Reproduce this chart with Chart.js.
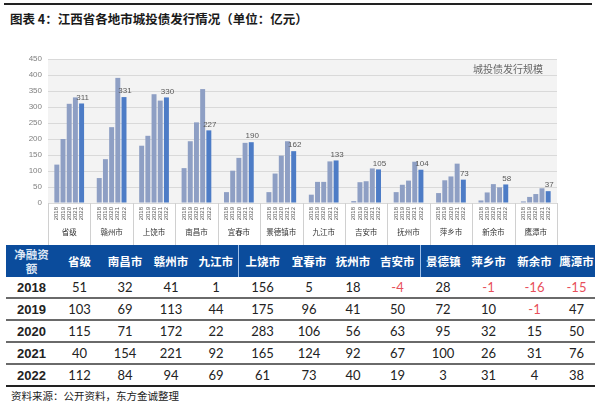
<!DOCTYPE html>
<html>
<head>
<meta charset="utf-8">
<script src="https://cdn.jsdelivr.net/npm/chart.js@4"></script>
<style>
  body { margin:0; width:600px; height:405px; background:#fff; position:relative; overflow:hidden;
         font-family:"Noto Sans CJK SC", sans-serif; }
  #topline { position:absolute; left:4px; top:3px; width:588px; height:2px; background:#222; }
  #title { position:absolute; left:10px; top:9px; font-weight:bold; font-size:12.5px; color:#1a1a1a; }
  #chart { position:absolute; left:0; top:35px; }
  #tbl { position:absolute; left:6px; top:245px; border-collapse:collapse; table-layout:fixed; }
  #tbl th { background:#0b4c9c; color:#fff; font-size:11.5px; font-weight:bold; height:32px; padding:0;
            text-align:center; line-height:14px; }
  #tbl th.sep { border-left:1px solid #9fc0ea; }
  #tbl td { height:20px; padding:0; text-align:center; font-family:Lato, "Noto Sans CJK SC", sans-serif;
            font-size:13px; color:#222; border-bottom:2px solid #6a6a6a; }
  #tbl tr:last-child td { border-bottom:2px solid #222; }
  #tbl td.yr { font-family:"Liberation Sans", sans-serif; font-weight:bold; }
  #tbl td.neg { color:#e8505b; }
  #src { position:absolute; left:11px; top:388px; font-size:10.5px; color:#222; }
</style>
</head>
<body>
<div id="topline"></div>
<div id="title">图表 4：江西省各地市城投债发行情况（单位：亿元）</div>
<canvas id="chart" width="600" height="210"></canvas>
<table id="tbl"></table>
<div id="src">资料来源：公开资料，东方金诚整理</div>
<script>
// 图表数据
const cities = ['省级', '赣州市', '上饶市', '南昌市', '宜春市', '景德镇市', '九江市', '吉安市', '抚州市', '萍乡市', '新余市', '鹰潭市'];
const years = ['2018', '2019', '2020', '2021', '2022'];
const y2018 = [120, 78, 179, 109, 34, 34, 26, 6, 34, 31, 8, 5];
const y2019 = [200, 137, 210, 193, 101, 92, 66, 65, 57, 71, 33, 19];
const y2020 = [310, 237, 340, 252, 141, 148, 66, 68, 70, 83, 59, 28];
const y2021 = [330, 391, 320, 356, 188, 193, 130, 108, 129, 123, 49, 46];
const y2022 = [311, 331, 330, 227, 190, 162, 133, 105, 104, 73, 58, 37];
const yTicks = [0, 50, 100, 150, 200, 250, 300, 350, 400, 450];

// 表格数据 (净融资额)
const tableHead = ['净融资额', '省级', '南昌市', '赣州市', '九江市', '上饶市', '宜春市', '抚州市', '吉安市', '景德镇', '萍乡市', '新余市', '鹰潭市'];
const net2018 = [51, 32, 41, 1, 156, 5, 18, -4, 28, -1, -16, -15];
const net2019 = [103, 69, 113, 44, 175, 96, 41, 50, 72, 10, -1, 47];
const net2020 = [115, 71, 172, 22, 283, 106, 56, 63, 95, 32, 15, 50];
const net2021 = [40, 154, 221, 92, 165, 124, 92, 67, 100, 26, 31, 76];
const net2022 = [112, 84, 94, 69, 61, 73, 40, 19, 3, 31, 4, 38];

// 表格生成
const colW = [51, 45, 46, 46, 44, 49, 44, 44, 45, 46, 45, 47, 37];
const tbl = document.getElementById('tbl');
let html = '<colgroup>' + colW.map(w => '<col style="width:' + w + 'px">').join('') + '</colgroup><tr>';
tableHead.forEach((h, i) => {
    const cls = (i === 5 || i === 9) ? ' class="sep"' : '';
    const txt = i === 0 ? '<span style="color:#dce6f4">净融资<br>额</span>' : h;
    html += '<th' + cls + '>' + txt + '</th>';
});
html += '</tr>';
[net2018, net2019, net2020, net2021, net2022].forEach((row, r) => {
    html += '<tr><td class="yr">' + years[r] + '</td>';
    row.forEach(v => { html += '<td' + (v < 0 ? ' class="neg"' : '') + '>' + v + '</td>'; });
    html += '</tr>';
});
tbl.innerHTML = html;

// 图表装饰 (背景, 年份, 城市名, 分隔线, 数值标签)
const decoPlugin = {
    id: 'deco',
    beforeDraw(chart) {
        const a = chart.chartArea, ctx = chart.ctx;
        ctx.save();
        ctx.fillStyle = '#f3f3f3';
        ctx.fillRect(a.left, a.top, a.right - a.left, a.bottom - a.top);
        ctx.restore();
    },
    afterDatasetsDraw(chart) {
        const ctx = chart.ctx, a = chart.chartArea, x = chart.scales.x;
        ctx.save();
        // 年份标签
        ctx.fillStyle = '#555';
        ctx.font = '6px "Liberation Sans"';
        chart.data.datasets.forEach((ds, di) => {
            chart.getDatasetMeta(di).data.forEach(bar => {
                ctx.save();
                ctx.translate(bar.x, a.bottom + 4);
                ctx.rotate(-Math.PI / 2);
                ctx.textAlign = 'right';
                ctx.textBaseline = 'middle';
                ctx.fillText(years[di], 0, 0);
                ctx.restore();
            });
        });
        // 城市名
        ctx.font = '7.5px "Noto Sans CJK SC"';
        ctx.fillStyle = '#333';
        ctx.textAlign = 'center';
        ctx.textBaseline = 'middle';
        cities.forEach((c, i) => ctx.fillText(c, x.getPixelForValue(i), a.bottom + 29));
        // 分隔线
        const w = x.getPixelForValue(1) - x.getPixelForValue(0);
        ctx.strokeStyle = '#d0d0d0';
        ctx.lineWidth = 1;
        for (let i = 0; i <= cities.length; i++) {
            const px = Math.round(x.getPixelForValue(0) - w / 2 + i * w) + 0.5;
            ctx.beginPath();
            ctx.moveTo(px, a.bottom);
            ctx.lineTo(px, chart.height);
            ctx.stroke();
        }
        // 2022 数值标签
        ctx.font = '8px "Liberation Sans"';
        ctx.fillStyle = '#595959';
        ctx.textBaseline = 'bottom';
        const last = chart.data.datasets.length - 1;
        chart.getDatasetMeta(last).data.forEach((bar, i) => {
            ctx.fillText(String(y2022[i]), bar.x + 1, bar.y - 2);
        });
        // 图例文字
        ctx.font = '10px "Noto Sans CJK SC"';
        ctx.fillStyle = '#666';
        ctx.textAlign = 'left';
        ctx.textBaseline = 'middle';
        ctx.fillText('城投债发行规模', 473, 34);
        ctx.restore();
    }
};

const barColors = ['#8e9fc4', '#8e9fc4', '#8e9fc4', '#8e9fc4', '#4d7cc6'];
const series = [y2018, y2019, y2020, y2021, y2022];

new Chart(document.getElementById('chart'), {
    type: 'bar',
    data: {
        labels: cities,
        datasets: series.map((d, i) => ({
            label: years[i],
            data: d,
            backgroundColor: barColors[i],
            categoryPercentage: 0.73,
            barPercentage: 0.8
        }))
    },
    options: {
        responsive: false,
        animation: false,
        layout: { padding: { left: 0, right: 43, top: 24, bottom: 42 } },
        plugins: { legend: { display: false }, tooltip: { enabled: false } },
        scales: {
            x: { display: false },
            y: {
                min: 0,
                max: 450,
                afterBuildTicks(scale) { scale.ticks = yTicks.map(v => ({ value: v })); },
                afterFit(scale) { scale.width = 48; },
                border: { display: false },
                grid: { color: '#d9d9d9', drawTicks: false },
                ticks: { padding: 6, color: '#808080', font: { size: 8, family: 'Liberation Sans' } }
            }
        }
    },
    plugins: [decoPlugin]
});
</script>
</body>
</html>
